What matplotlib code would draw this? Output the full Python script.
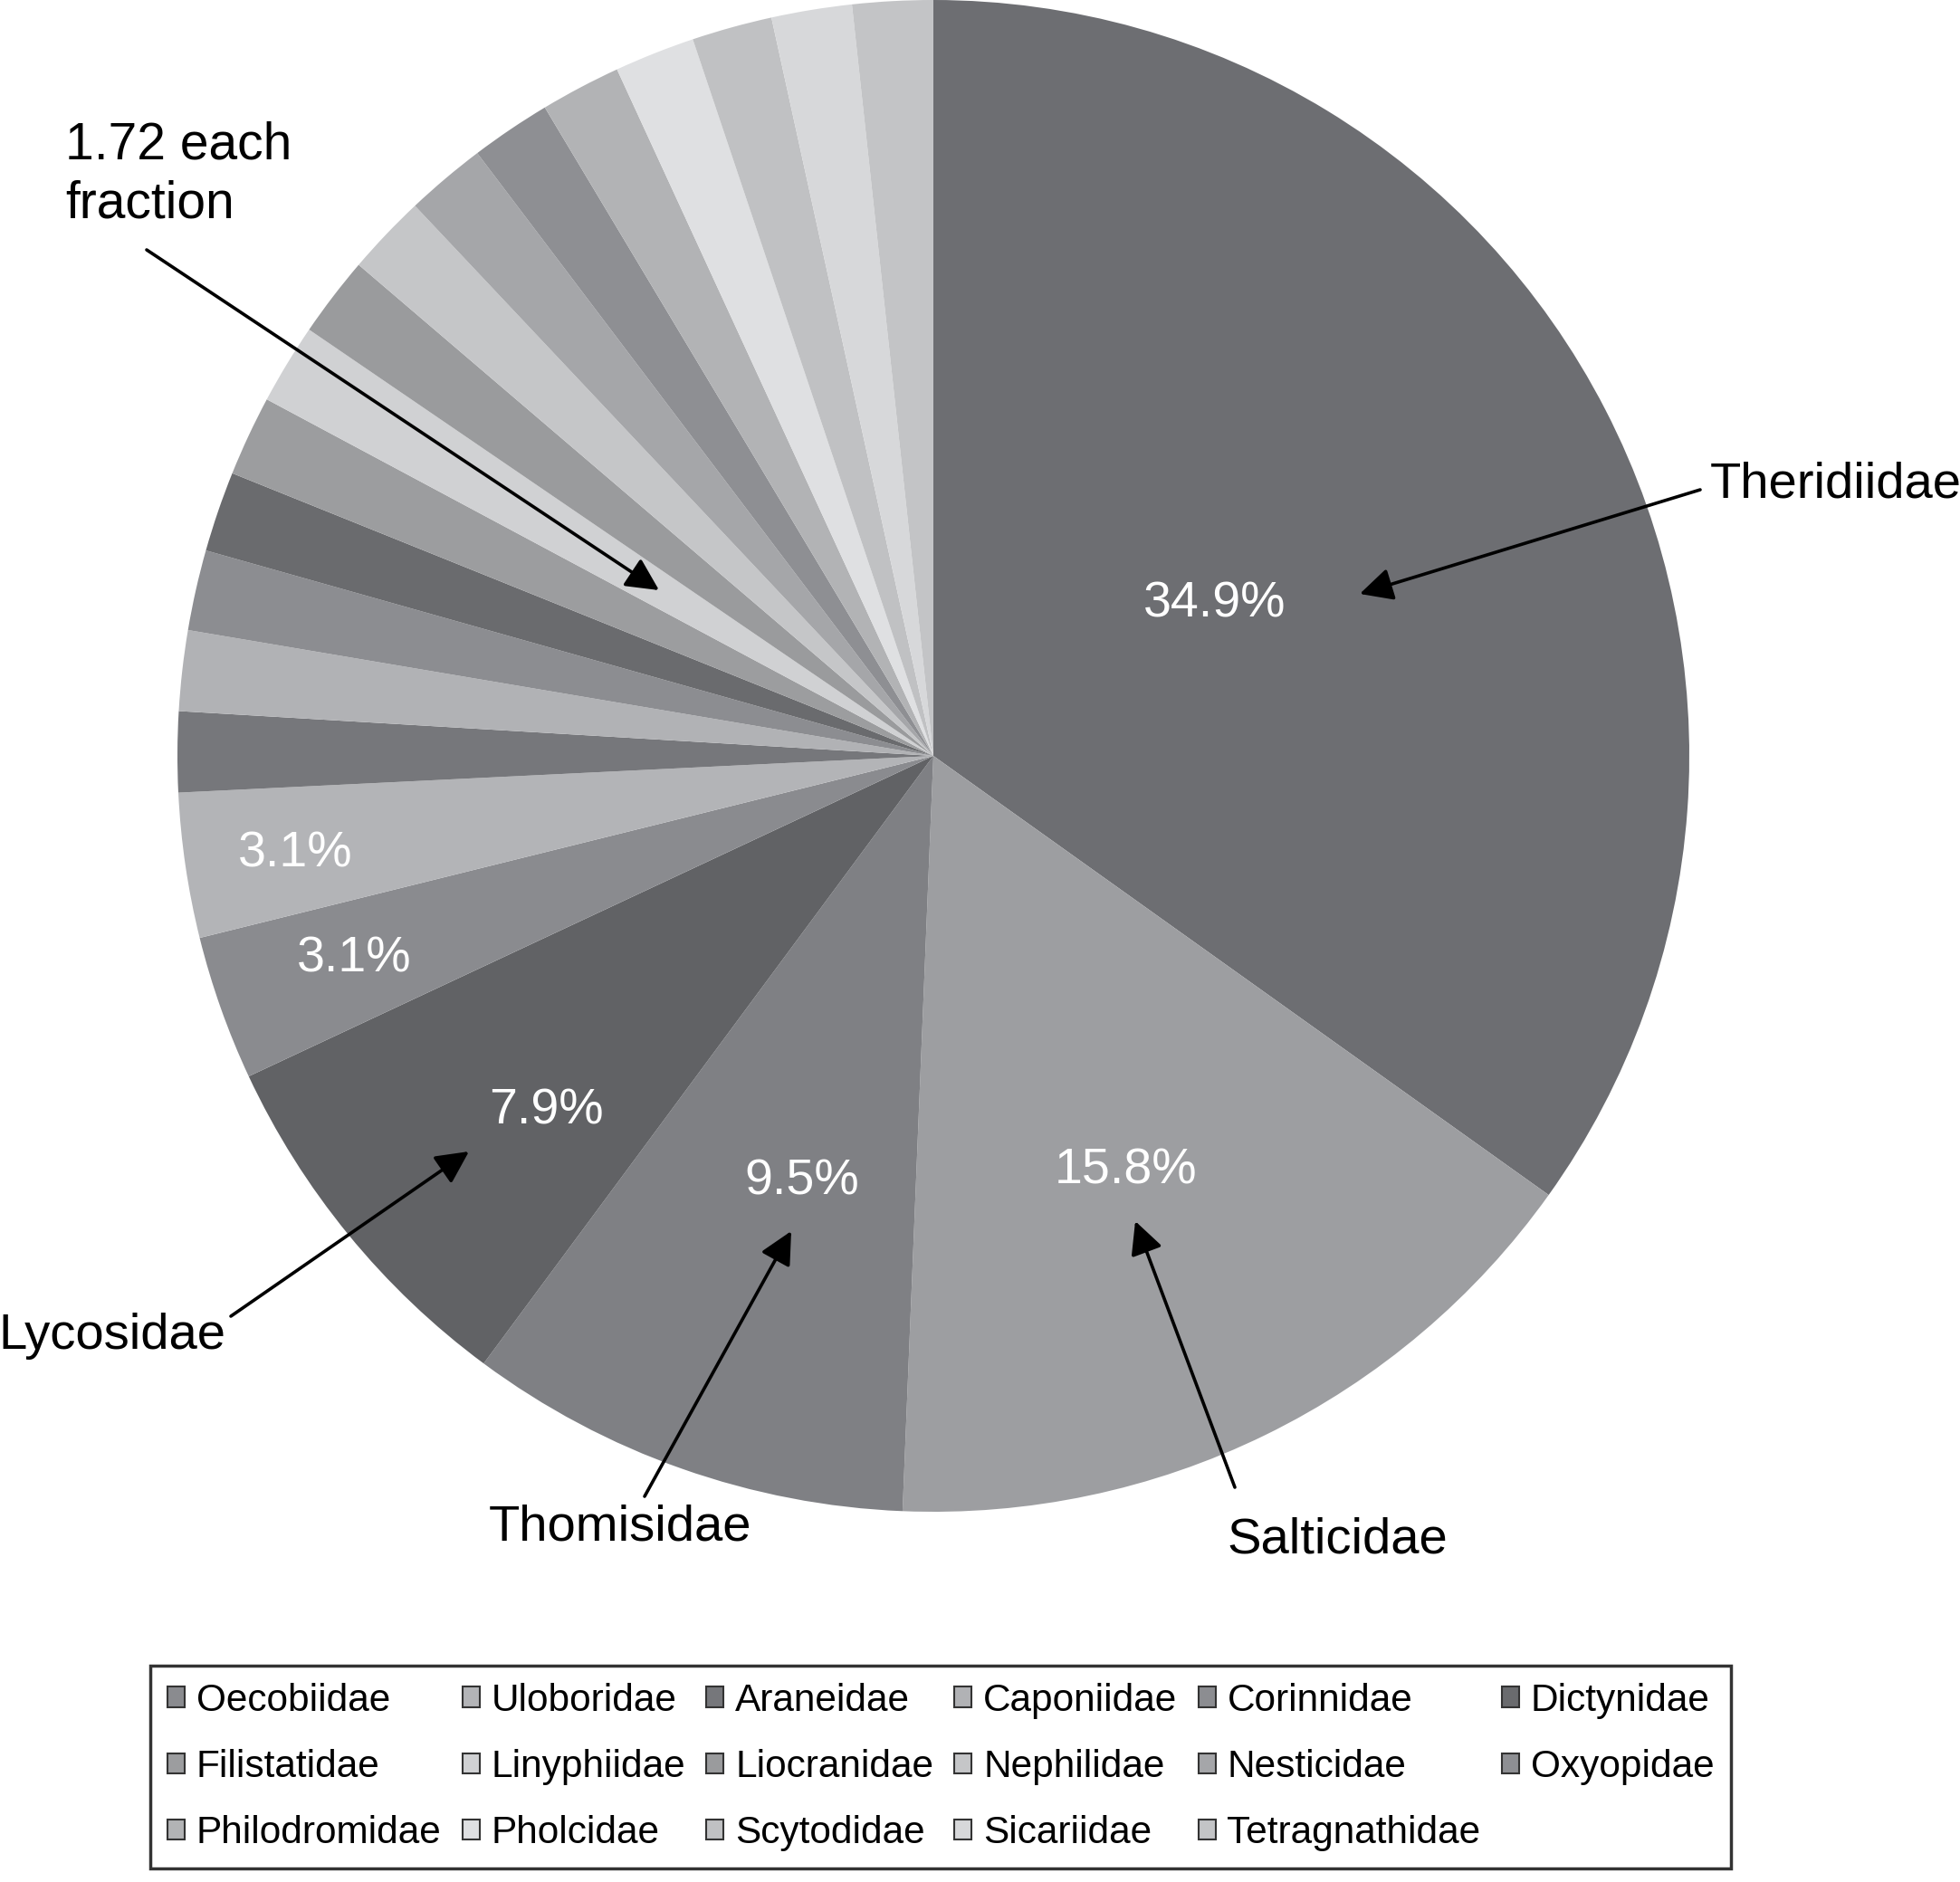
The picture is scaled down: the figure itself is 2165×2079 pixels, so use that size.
import matplotlib
matplotlib.use("Agg")
import matplotlib.pyplot as plt
from matplotlib.patches import Patch

# spider families, clockwise from the top
big_names = ["Theridiidae", "Salticidae", "Thomisidae", "Lycosidae"]
big_values = [34.9, 15.8, 9.5, 7.9]
big_colors = ["#6d6e72", "#9d9ea1", "#7f8084", "#616265"]

small_names = ["Oecobiidae", "Uloboridae", "Araneidae", "Caponiidae", "Corinnidae",
               "Dictynidae", "Filistatidae", "Linyphiidae", "Liocranidae", "Nephilidae",
               "Nesticidae", "Oxyopidae", "Philodromidae", "Pholcidae", "Scytodidae",
               "Sicariidae", "Tetragnathidae"]
small_values = [3.1, 3.1] + [1.72] * 15
small_colors = ["#8a8b8f", "#b3b4b7", "#76777b", "#b1b2b5", "#8c8d91",
                "#6a6b6e", "#9c9d9f", "#d0d1d3", "#9a9b9d", "#c5c6c8",
                "#a5a6a9", "#8e8f93", "#b2b3b5", "#dfe0e2", "#c0c1c3",
                "#d7d8da", "#c3c4c6"]

values = big_values + small_values
colors = big_colors + small_colors

W, H = 2165, 2079
plt.rcParams['font.family'] = ['Liberation Sans', 'DejaVu Sans']

fig = plt.figure(figsize=(W / 100, H / 100), dpi=100)
ax = fig.add_axes([0, 0, 1, 1])


def Y(y):
    # image row -> data y
    return H - y


wedges, _ = ax.pie(values, colors=colors, startangle=90, counterclock=False,
                   center=(1031, Y(835)), radius=835,
                   wedgeprops=dict(linewidth=0), frame=True)
ax.set_xlim(0, W)
ax.set_ylim(0, H)
ax.axis('off')

# percent labels inside the slices
pct_pos = [(1342, 667), (1244, 1294), (886, 1306), (603, 1227), (391, 1059), (326, 943)]
pct_vals = big_values + small_values[:2]
for (x, y), v in zip(pct_pos, pct_vals):
    ax.text(x, Y(y), f"{v}%", color="white", fontsize=40, ha="center", va="center")

# family labels with arrows
arrow_kw = dict(arrowstyle='-|>', color='black', lw=2.6, mutation_scale=55,
                shrinkA=0, shrinkB=0)
labels = [
    ("Theridiidae", (1889, 536), "left", (1878, 541), (1502, 656)),
    ("Salticidae", (1477, 1701), "center", (1364, 1643), (1254, 1349)),
    ("Thomisidae", (685, 1687), "center", (712, 1653), (874, 1360)),
    ("Lycosidae", (124, 1476), "center", (255, 1454), (518, 1272)),
]
for name, (tx, ty), ha, (sx, sy), (ex, ey) in labels:
    ax.text(tx, Y(ty), name, fontsize=40.5, ha=ha, va="center")
    ax.annotate('', xy=(ex, Y(ey)), xytext=(sx, Y(sy)), arrowprops=arrow_kw)

ax.text(72, Y(193), "1.72 each\nfraction", fontsize=41, ha="left", va="center",
        linespacing=1.27)
ax.annotate('', xy=(728, Y(652)), xytext=(162, Y(276)), arrowprops=arrow_kw)

# legend, row-wise order like the original
handles = [Patch(facecolor=c, edgecolor="#333333", linewidth=1.5) for c in small_colors]
ncol, nrow = 6, 3
order = [r * ncol + c for c in range(ncol) for r in range(nrow) if r * ncol + c < len(small_names)]
leg = fig.legend([handles[i] for i in order], [small_names[i] for i in order],
                 ncol=ncol, loc="center", bbox_to_anchor=(1039 / W, 1 - 1952 / H),
                 frameon=True, fancybox=False, edgecolor="black",
                 handlelength=0.45, handleheight=0.45, handletextpad=0.3,
                 columnspacing=0.55, labelspacing=0.78, borderpad=0.45,
                 prop=dict(family=['Liberation Sans'], size=30.5))
leg.get_frame().set_linewidth(2.5)

fig.savefig("out.png", dpi=100, facecolor="white")
